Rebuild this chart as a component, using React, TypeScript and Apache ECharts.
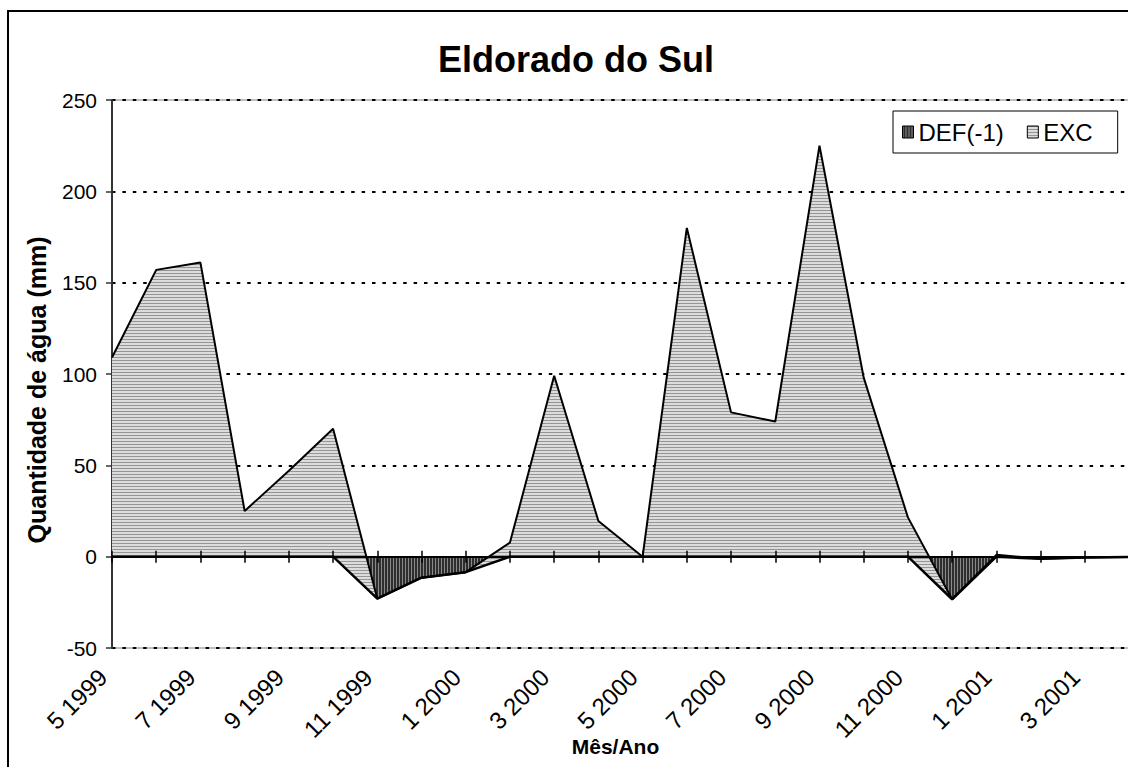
import React, { useEffect, useRef } from 'react';
import * as echarts from 'echarts';

const FONT = '"Liberation Sans", Arial, sans-serif';

const categories = [
  '5 1999', '6 1999', '7 1999', '8 1999', '9 1999', '10 1999', '11 1999', '12 1999',
  '1 2000', '2 2000', '3 2000', '4 2000', '5 2000', '6 2000', '7 2000', '8 2000',
  '9 2000', '10 2000', '11 2000', '12 2000', '1 2001', '2 2001', '3 2001', '4 2001',
];

const defValues = [
  0, 0, 0, 0, 0, 0, -23, -11.5,
  -8.5, 0, 0, 0, 0, 0, 0, 0,
  0, 0, 0, -23.3, 0, -1.2, -0.5, -0.2,
];

const excValues = [
  109, 157, 161, 25, 47, 70, 0, 0,
  0, 7.7, 99, 19.5, 0, 180, 79, 74,
  225, 98, 21.5, 0, 1, 0, 0, 0,
];

const yMin = -50;
const yMax = 250;
const yInterval = 50;

function stripePattern(w: number, h: number, bg: string, fg: string, horizontal: boolean) {
  const c = document.createElement('canvas');
  c.width = w;
  c.height = h;
  const ctx = c.getContext('2d')!;
  ctx.fillStyle = bg;
  ctx.fillRect(0, 0, w, h);
  ctx.fillStyle = fg;
  if (horizontal) ctx.fillRect(0, 0, w, 1);
  else ctx.fillRect(0, 0, 1, h);
  return { image: c, repeat: 'repeat', imageWidth: w, imageHeight: h } as any;
}

export default function App() {
  const ref = useRef<HTMLDivElement>(null);

  useEffect(() => {
    if (!ref.current) return;
    const chart = echarts.init(ref.current, undefined, { renderer: 'svg' });
    const excPattern = stripePattern(4, 3, '#dcdcdc', '#959595', true);
    const defPattern = stripePattern(3, 4, '#2e2e2e', '#8a8a8a', false);

    const tickStyle = { color: '#000', width: 1.5 };

    const option: any = {
      animation: false,
      backgroundColor: '#fff',
      title: {
        text: 'Eldorado do Sul',
        left: 438,
        top: 41,
        padding: 0,
        textStyle: { fontFamily: FONT, fontSize: 36, fontWeight: 'bold', color: '#000' },
      },
      legend: {
        left: 893,
        top: 111,
        orient: 'horizontal',
        padding: [9, 25, 9, 9],
        itemWidth: 11,
        itemHeight: 12,
        itemGap: 23,
        backgroundColor: '#fff',
        borderColor: '#000',
        borderWidth: 1,
        borderRadius: 0,
        textStyle: { fontFamily: FONT, fontSize: 24, color: '#000' },
        data: [
          { name: 'DEF(-1)', icon: 'rect', itemStyle: { color: defPattern, borderColor: '#000', borderWidth: 1 } },
          { name: 'EXC', icon: 'rect', itemStyle: { color: excPattern, borderColor: '#000', borderWidth: 1 } },
        ],
      },
      graphic: [
        {
          type: 'rect',
          silent: true,
          z: -10,
          shape: { x: 8, y: 11, width: 1150, height: 800 },
          style: { fill: 'none', stroke: '#000', lineWidth: 2 },
        },
      ],
      grid: {
        left: 112,
        top: 100,
        width: 1017,
        height: 548,
        containLabel: false,
        outerBoundsMode: 'none',
        show: true,
        borderColor: '#808080',
        borderWidth: 1,
        backgroundColor: 'transparent',
      },
      xAxis: [
        {
          type: 'category',
          data: categories,
          boundaryGap: false,
          position: 'bottom',
          axisLine: { show: true, onZero: true, onZeroAxisIndex: 0, lineStyle: { color: '#000', width: 2 } },
          axisTick: { show: true, interval: 0, length: 6, lineStyle: tickStyle },
          axisLabel: { show: false },
          splitLine: { show: false },
          z: 10,
        },
        {
          type: 'category',
          data: categories,
          boundaryGap: false,
          position: 'top',
          axisLine: { show: false, onZero: true, onZeroAxisIndex: 0 },
          axisTick: { show: true, interval: 0, length: 6, lineStyle: tickStyle },
          axisLabel: { show: false },
          splitLine: { show: false },
          z: 10,
        },
        {
          type: 'category',
          data: categories,
          boundaryGap: false,
          position: 'bottom',
          axisLine: { show: false, onZero: false },
          axisTick: { show: false },
          axisLabel: {
            interval: 1,
            rotate: 45,
            margin: 16,
            padding: [0, 13, 0, 0],
            fontSize: 24,
            fontFamily: FONT,
            color: '#000',
          },
          splitLine: { show: false },
          name: 'Mês/Ano',
          nameLocation: 'middle',
          nameGap: 88,
          nameMoveOverlap: false,
          nameTextStyle: {
            fontFamily: FONT,
            fontSize: 21,
            fontWeight: 'bold',
            color: '#000',
            padding: [0, 10, 0, 0],
          },
        },
      ],
      yAxis: {
        type: 'value',
        min: yMin,
        max: yMax,
        interval: yInterval,
        axisLine: { show: true, lineStyle: { color: '#333', width: 2 } },
        axisTick: { show: true, length: 6, lineStyle: { color: '#333', width: 1.5 } },
        axisLabel: { margin: 15, fontSize: 21, fontFamily: FONT, color: '#000' },
        splitLine: { show: true, lineStyle: { color: '#000', width: 2, type: [3.5, 6.9] } },
        name: 'Quantidade de água (mm)',
        nameLocation: 'middle',
        nameGap: 63,
        nameRotate: 90,
        nameMoveOverlap: false,
        nameTextStyle: {
          fontFamily: FONT,
          fontSize: 25,
          fontWeight: 'bold',
          color: '#000',
          padding: [0, 32, 0, 0],
        },
      },
      series: [
        {
          name: 'DEF(-1)',
          type: 'line',
          stack: 'total',
          stackStrategy: 'all',
          xAxisIndex: 0,
          data: defValues,
          symbol: 'none',
          lineStyle: { color: '#000', width: 2.5 },
          itemStyle: { color: '#333' },
          areaStyle: { color: defPattern, opacity: 1 },
        },
        {
          name: 'EXC',
          type: 'line',
          stack: 'total',
          stackStrategy: 'all',
          xAxisIndex: 0,
          data: excValues,
          symbol: 'none',
          lineStyle: { color: '#000', width: 2 },
          itemStyle: { color: '#ccc' },
          areaStyle: { color: excPattern, opacity: 1 },
        },
      ],
    };

    chart.setOption(option);
    return () => chart.dispose();
  }, []);

  return (
    <div
      ref={ref}
      style={{ position: 'absolute', left: 0, top: 0, width: 1128, height: 767 }}
    />
  );
}
